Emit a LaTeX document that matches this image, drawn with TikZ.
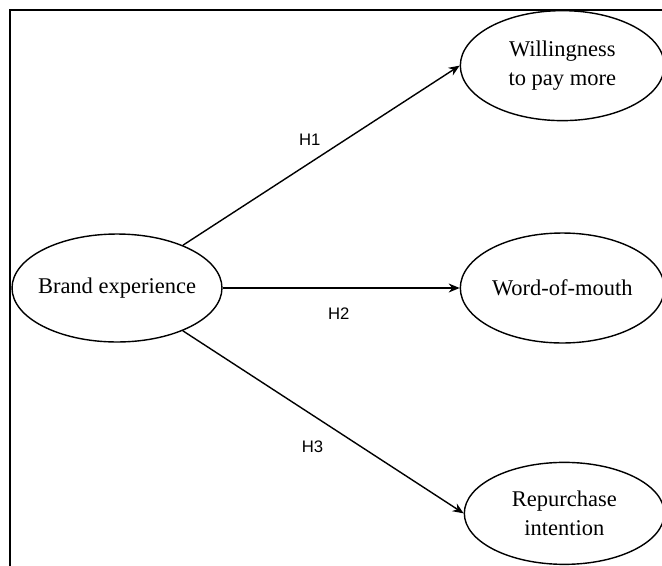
\documentclass[tikz,border=0pt]{standalone}
\usepackage{fontspec}
\setmainfont{Liberation Serif}
\setsansfont{Liberation Sans}
\usepackage{tikz}
\usetikzlibrary{arrows,arrows.meta,shapes,positioning}

\begin{document}
\begin{tikzpicture}[x=0.02cm, y=-0.02cm, auto]
      \tikzstyle{construct} = [ellipse, draw, line width=0.8pt, inner xsep=-0.2cm,
                               inner ysep=0pt, align=center, minimum width=4.08cm,
                               minimum height=2.2cm, font=\fontsize{12.8}{16.4}\selectfont]
      \tikzstyle{arrow} = [draw, -{Stealth[length=0.22cm, width=0.18cm]}, line width=0.8pt]
      \tikzstyle{hyp} = [inner sep=0pt, font=\sffamily\fontsize{9.5}{11}\selectfont]
      \useasboundingbox (0,0) rectangle (662,565);
      \clip (0,0) rectangle (662,565);
      \draw[line width=1.4pt] (10,10) rectangle (700,600);
      \node[construct, minimum width=4.2cm, minimum height=2.16cm] (brand)
        at (117,288) {Brand experience};
      \node[construct, right = 4.74cm of brand] (wom) {Word-of-mouth};
      \node[construct, above = 2.22cm of wom] (willing) {Willingness\\to pay more};
      \node[construct, minimum width=4cm, minimum height=2.04cm,
            below = 2.36cm of wom, xshift=0.04cm] (repurch) {Repurchase\\intention};
      \path[arrow] (brand) -- node[hyp, pos=0.52, above left=0.16cm] {H1} (willing.west);
      \path[arrow] (brand) -- node[hyp, pos=0.49, below=0.38cm] {H2} (wom.west);
      \path[arrow] (brand) -- node[hyp, pos=0.54, below left=0.3cm] {H3} (repurch.west);
    \end{tikzpicture}
\end{document}
